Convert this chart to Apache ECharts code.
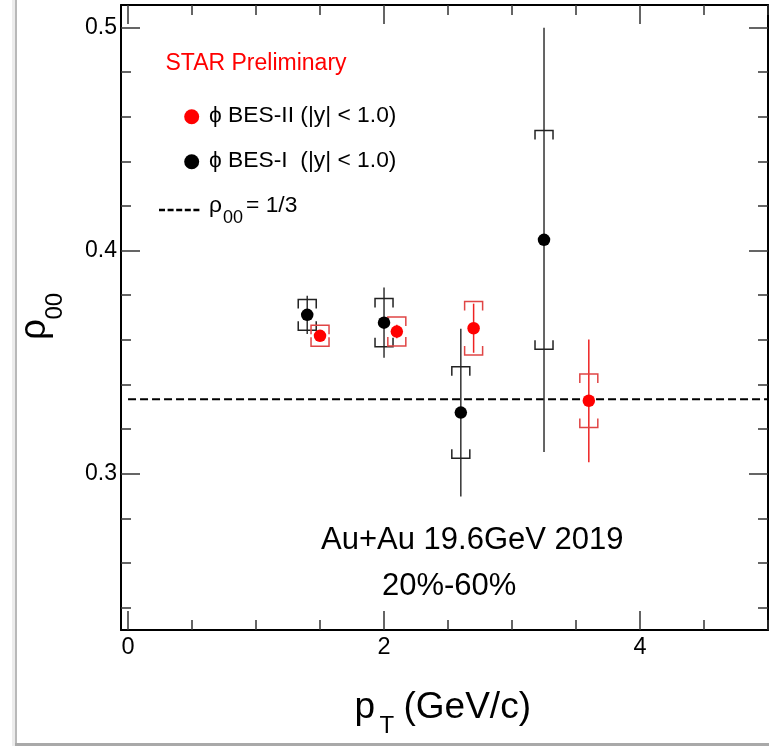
<!DOCTYPE html>
<html><head><meta charset="utf-8">
<script src="https://cdn.jsdelivr.net/npm/echarts@6/dist/echarts.min.js"></script>
<style>html,body{margin:0;padding:0;background:#fff}#c{width:769px;height:746px}</style>
</head><body><div id="c"></div>
<script>
// ---- data ----
const besIIPt   = [1.5, 2.1, 2.7, 3.6];
const besIIRho  = [0.3618, 0.3637, 0.3652, 0.3327];
const besIIStat = [0.002, 0.003, 0.011, 0.0275];
const besIISys  = [0.0047, 0.0065, 0.012, 0.012];

const besIPt   = [1.4, 2.0, 2.6, 3.25];
const besIRho  = [0.3712, 0.3677, 0.3274, 0.4048];
const besIStat = [0.0086, 0.0157, 0.0376, 0.095];
const besISys  = [0.0069, 0.0108, 0.0205, 0.049];

const refRho = 1 / 3;
const refLineX = [0, 5];

const xMajorTicks = [0, 2, 4];
const xMinorTicks = [0.5, 1, 1.5, 2.5, 3, 3.5, 4.5, 5];
const yMajorTicks = [0.3, 0.4, 0.5];
const yMinorTicks = [0.24, 0.26, 0.28, 0.32, 0.34, 0.36, 0.38, 0.42, 0.44, 0.46, 0.48];

// ---- chart ----
const FONT = '"Liberation Sans", Arial, Helvetica, sans-serif';
const X_MIN = -0.055, X_MAX = 5, Y_MIN = 0.23, Y_MAX = 0.51;

function xAxis(position, ticks, len, showLine, showLabel) {
  return {
    type: 'value', position: position, min: X_MIN, max: X_MAX,
    axisLine: { show: showLine, onZero: false, lineStyle: { color: '#000', width: 2 } },
    axisTick: { show: true, inside: true, length: len, customValues: ticks, lineStyle: { color: '#333', width: 1.5 } },
    axisLabel: { show: showLabel, customValues: ticks, margin: 6, fontSize: 23.5, color: '#000', fontFamily: FONT },
    splitLine: { show: false }
  };
}
function yAxis(position, ticks, len, showLine, showLabel) {
  return {
    type: 'value', position: position, min: Y_MIN, max: Y_MAX,
    axisLine: { show: showLine, onZero: false, lineStyle: { color: '#000', width: 2 } },
    axisTick: { show: true, inside: true, length: len, customValues: ticks, lineStyle: { color: '#333', width: 1.5 } },
    axisLabel: { show: showLabel, customValues: ticks, margin: 4, fontSize: 23, color: '#000', fontFamily: FONT,
                 formatter: v => v.toFixed(1) },
    splitLine: { show: false }
  };
}

function errSeries(name, pts, rho, stat, sys, statColor, sysColor) {
  return {
    type: 'custom', name: name, z: 3, silent: true,
    data: pts.map((x, i) => [x, rho[i], stat[i], sys[i]]),
    encode: { x: 0, y: 1 },
    renderItem: function (params, api) {
      const x = api.value(0), y = api.value(1), st = api.value(2), sy = api.value(3);
      const pT = api.coord([x, y + st]), pB = api.coord([x, y - st]);
      const sT = api.coord([x, y + sy]), sB = api.coord([x, y - sy]);
      const w = 9, leg = 9;
      return { type: 'group', children: [
        { type: 'line', shape: { x1: pT[0], y1: pT[1], x2: pB[0], y2: pB[1] }, style: { stroke: statColor, lineWidth: 1.5 } },
        { type: 'polyline', shape: { points: [[sT[0] - w, sT[1] + leg], [sT[0] - w, sT[1]], [sT[0] + w, sT[1]], [sT[0] + w, sT[1] + leg]] },
          style: { stroke: sysColor, lineWidth: 1.5, fill: null } },
        { type: 'polyline', shape: { points: [[sB[0] - w, sB[1] - leg], [sB[0] - w, sB[1]], [sB[0] + w, sB[1]], [sB[0] + w, sB[1] - leg]] },
          style: { stroke: sysColor, lineWidth: 1.5, fill: null } }
      ]};
    }
  };
}

const txt = (x, y, text, size, color, extra) => Object.assign({
  type: 'text', x: x, y: y, silent: true,
  style: { text: text, fontSize: size, fontFamily: FONT, fill: color || '#000', align: 'left', verticalAlign: 'middle' }
}, extra || {});

const option = {
  animation: false,
  backgroundColor: '#fff',
  grid: { left: 121, right: 1, top: 5, bottom: 116, containLabel: false },
  xAxis: [
    xAxis('bottom', xMajorTicks, 19, true, true),
    xAxis('bottom', xMinorTicks, 10, false, false),
    xAxis('top', xMajorTicks, 19, true, false),
    xAxis('top', xMinorTicks, 10, false, false)
  ],
  yAxis: [
    yAxis('left', yMajorTicks, 19, true, true),
    yAxis('left', yMinorTicks, 10, false, false),
    yAxis('right', yMajorTicks, 19, true, false),
    yAxis('right', yMinorTicks, 10, false, false)
  ],
  series: [
    { type: 'line', name: 'ρ00 = 1/3', z: 2, silent: true, symbol: 'none',
      data: refLineX.map(x => [x, refRho]),
      lineStyle: { color: '#000', width: 2, type: [8, 4] } },
    errSeries('BES-I err', besIPt, besIRho, besIStat, besISys, '#333', '#222'),
    errSeries('BES-II err', besIIPt, besIIRho, besIIStat, besIISys, '#e22', '#e04545'),
    { type: 'scatter', name: 'ϕ BES-I (|y| < 1.0)', z: 4, symbol: 'circle', symbolSize: 12.5,
      data: besIPt.map((x, i) => [x, besIRho[i]]), itemStyle: { color: '#000', opacity: 1 } },
    { type: 'scatter', name: 'ϕ BES-II (|y| < 1.0)', z: 4, symbol: 'circle', symbolSize: 12.5,
      data: besIIPt.map((x, i) => [x, besIIRho[i]]), itemStyle: { color: '#ff0000', opacity: 1 } }
  ],
  graphic: [
    // screenshot frame
    { type: 'rect', silent: true, shape: { x: 12, y: 0, width: 3, height: 746 }, style: { fill: '#ececec' } },
    { type: 'rect', silent: true, shape: { x: 15, y: 0, width: 2, height: 744 }, style: { fill: '#b8b8b8' } },
    { type: 'rect', silent: true, shape: { x: 15, y: 743, width: 754, height: 3 }, style: { fill: '#a9a9a9' } },
    // labels
    txt(165.5, 63.2, 'STAR Preliminary', 23, '#ff0000'),
    { type: 'circle', silent: true, shape: { cx: 191.7, cy: 116.7, r: 7.5 }, style: { fill: '#ff0000' } },
    txt(209, 115.7, 'ϕ BES-II (|y| < 1.0)', 22.8),
    { type: 'circle', silent: true, shape: { cx: 191.7, cy: 161.7, r: 7.5 }, style: { fill: '#000' } },
    txt(209, 160.7, 'ϕ BES-I  (|y| < 1.0)', 22.8),
    { type: 'line', silent: true, shape: { x1: 159, y1: 210, x2: 201, y2: 210 }, style: { stroke: '#000', lineWidth: 2.5, lineDash: [6, 2.6] } },
    txt(209, 205.6, 'ρ', 22.8),
    txt(223, 217.8, '00', 18),
    txt(246, 205.6, '= 1/3', 22.8),
    txt(321, 540, 'Au+Au 19.6GeV 2019', 31),
    txt(382, 586, '20%-60%', 31),
    txt(354.5, 707.5, 'p', 37),
    txt(379.5, 726.7, 'T', 24),
    txt(403.5, 707.5, '(GeV/c)', 37),
    txt(34.4, 340, 'ρ', 37, '#000', { rotation: Math.PI / 2 }),
    txt(55, 319.5, '00', 24, '#000', { rotation: Math.PI / 2 })
  ]
};

const chart = echarts.init(document.getElementById('c'), null, { renderer: 'canvas' });
chart.setOption(option);
</script>
</body></html>
